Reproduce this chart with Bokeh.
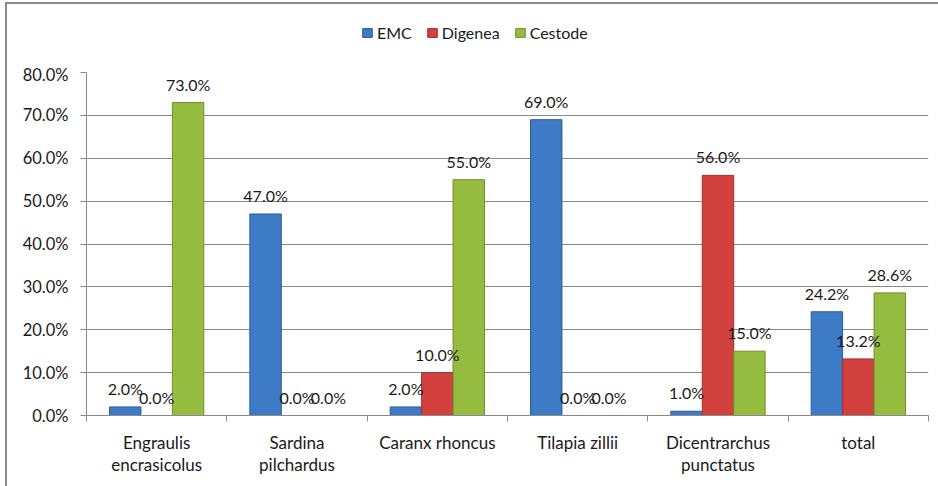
from bokeh.plotting import figure
from bokeh.layouts import column
from bokeh.models import (ColumnDataSource, FixedTicker, NumeralTickFormatter, Legend,
                          LegendItem, LabelSet, Range1d)
from bokeh.core.properties import value
from bokeh.embed import file_html
from bokeh.resources import INLINE

categories = ["Engraulis\nencrasicolus", "Sardina\npilchardus", "Caranx rhoncus",
              "Tilapia zillii", "Dicentrarchus\npunctatus", "total"]
series_names = ["EMC", "Digenea", "Cestode"]
emc = [0.02, 0.47, 0.02, 0.69, 0.01, 0.242]
digenea = [0.0, 0.0, 0.10, 0.0, 0.56, 0.132]
cestode = [0.73, 0.0, 0.55, 0.0, 0.15, 0.286]
y_ticks = [0.0, 0.1, 0.2, 0.3, 0.4, 0.5, 0.6, 0.7, 0.8]

colors = ["#3d7bc7", "#d2413d", "#95bc41"]
edges = ["#2b5c9c", "#a3302c", "#6f8f2c"]
FONT = "Lato"
TXT = "#1a1a1a"
GRAY = "#8a8a8a"

W = 931
# ---------------- main chart ----------------
p = figure(width=W, height=422, output_backend="svg", toolbar_location=None,
           x_range=Range1d(0, len(categories)), y_range=Range1d(0, 0.8),
           min_border_left=79, min_border_right=10, min_border_top=8, min_border_bottom=71)
p.outline_line_color = None
p.background_fill_color = "white"
p.border_fill_color = "white"

bw = 0.224
offsets = [-bw, 0.0, bw]
centers = [i + 0.5 for i in range(len(categories))]
all_series = [emc, digenea, cestode]
for vals, off, c, e in zip(all_series, offsets, colors, edges):
    src = ColumnDataSource(dict(
        x=[cx + off for cx in centers],
        top=vals,
        lab=[f"{v*100:.1f}%" for v in vals],
    ))
    p.vbar(x="x", top="top", bottom=0, width=bw, source=src,
           fill_color=c, line_color=e, line_width=1)
    p.add_layout(LabelSet(x="x", y="top", text="lab", source=src, text_align="center",
                          text_baseline="alphabetic", y_offset=12, text_font=value(FONT),
                          text_font_size="16px", text_color=TXT))

p.yaxis.ticker = FixedTicker(ticks=y_ticks)
p.yaxis.formatter = NumeralTickFormatter(format="0.0%")
p.yaxis.axis_line_color = GRAY
p.yaxis.major_tick_line_color = GRAY
p.yaxis.major_tick_out = 6
p.yaxis.major_tick_in = 0
p.yaxis.minor_tick_line_color = None
p.yaxis.major_label_text_font = FONT
p.yaxis.major_label_text_font_size = "16.5px"
p.yaxis.major_label_text_color = TXT
p.yaxis.major_label_standoff = 12

p.xaxis.ticker = FixedTicker(ticks=centers, minor_ticks=list(range(len(categories) + 1)))
p.xaxis.major_label_overrides = {c: lab for c, lab in zip(centers, categories)}
p.xaxis.major_tick_line_color = None
p.xaxis.minor_tick_line_color = GRAY
p.xaxis.minor_tick_out = 6
p.xaxis.minor_tick_in = 0
p.xaxis.axis_line_color = GRAY
p.xaxis.major_label_text_font = FONT
p.xaxis.major_label_text_font_size = "17px"
p.xaxis.major_label_text_line_height = 1.05
p.xaxis.major_label_text_color = TXT
p.xaxis.major_label_standoff = 10

p.xgrid.grid_line_color = None
p.ygrid.ticker = FixedTicker(ticks=y_ticks)
p.ygrid.grid_line_color = GRAY

# ---------------- legend strip ----------------
# hidden copies of the series carry the legend swatches
lg = figure(width=W, height=60, output_backend="svg", toolbar_location=None,
            x_axis_location=None, y_axis_location=None,
            x_range=Range1d(0, len(categories)), y_range=Range1d(0, 0.8),
            min_border_left=0, min_border_right=0, min_border_top=0, min_border_bottom=0)
lg.grid.grid_line_color = None
lg.outline_line_color = None
items = []
for name, vals, c, e in zip(series_names, all_series, colors, edges):
    r = lg.vbar(x=centers, top=vals, width=bw, fill_color=c, line_color=e, visible=False)
    items.append(LegendItem(label=name, renderers=[r]))
legend = Legend(items=items, orientation="horizontal", location=(275, 22),
                label_text_font=FONT, label_text_font_size="16px", label_text_color=TXT,
                glyph_width=12, glyph_height=11, spacing=14, label_standoff=4,
                inactive_fill_alpha=0,
                border_line_color=None, background_fill_alpha=0, padding=3, margin=0)
lg.add_layout(legend)

layout = column(lg, p, spacing=0)
layout.styles = {"border-left": "2px solid #8a8a8a", "border-top": "2px solid #8a8a8a",
                 "margin-left": "5px", "margin-top": "2px"}

open("out.html", "w").write(file_html(layout, INLINE))
